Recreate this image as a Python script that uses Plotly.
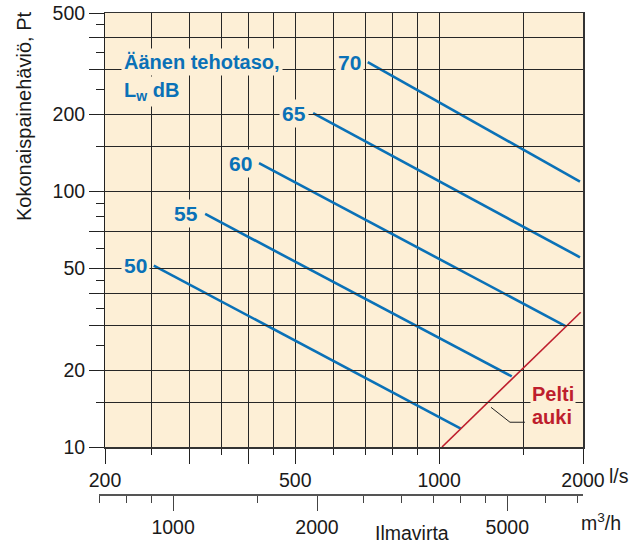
import math
import plotly.graph_objects as go

# ---------------- data ----------------
lw_levels = [50, 55, 60, 65, 70]                      # sound power level, dB
lw_flow_start = [253, 324, 420, 545, 709]             # l/s
lw_flow_end = [1110, 1419, 1834, 1971, 1971]          # l/s
lw_dp_start = [51.3, 81.7, 129.1, 202.6, 320.8]       # Pa
lw_dp_end = [11.8, 18.9, 29.8, 55.3, 109.4]           # Pa

damper_flow = [1014, 1978]                            # "Pelti auki" l/s
damper_dp = [10.0, 33.7]                              # Pa

leader_flow = [1512, 1407, 1284]
leader_dp = [12.5, 12.5, 14.3]

x_major = [200, 300, 400, 500, 1000, 2000]
x_major_text = ["200", "", "", "500", "1000", "2000"]
x_minor = [250, 350, 450, 600, 700, 800, 900, 1500]

y_grid = [15, 20, 30, 40, 50, 70, 100, 150, 200, 300, 400]
y_major = [10, 20, 30, 40, 50, 70, 100, 200, 300, 400, 500]
y_major_text = ["10", "20", "", "", "50", "", "100", "200", "", "", "500"]
y_minor = [15, 25, 35, 45, 60, 80, 90, 150, 250, 350, 450]

m3h_major = [1000, 2000, 5000]
m3h_major_text = ["1000", "2000", "5000"]
m3h_minor = [700, 800, 900, 1500, 2500, 3000, 3500, 4000, 4500, 6000, 7000]
m3h_range = [700, 7200]

x_range = [200, 2000]
y_range = [10, 500]

# ---------------- styling ----------------
BLUE = "#0a71b7"
RED = "#be1e2d"
BG = "#fdefd6"
GRID = "#262626"
FONT = "Liberation Sans, Arial, sans-serif"
TXT = "#1a1a1a"

W, H = 640, 547
ML, MR, MT, MB = 99, 57, 13, 53
PW = W - ML - MR
PH = H - MT - MB
x_dom0 = 6 / PW
y_dom0 = 47 / PH

fig = go.Figure()

# cream plot area
fig.add_shape(type="rect", xref="x domain", yref="y domain", x0=0, x1=1, y0=0, y1=1,
              fillcolor=BG, line=dict(width=0), layer="below")

for lv, xs, xe, ys, ye in zip(lw_levels, lw_flow_start, lw_flow_end, lw_dp_start, lw_dp_end):
    fig.add_trace(go.Scatter(x=[xs, xe], y=[ys, ye], mode="lines",
                             line=dict(color=BLUE, width=2.6), showlegend=False,
                             hoverinfo="skip"))
    fig.add_annotation(x=math.log10(xs), y=math.log10(ys), xref="x", yref="y",
                       text=f"<b>{lv}</b>", showarrow=False, xanchor="right",
                       yanchor="middle", xshift=-4, bgcolor=BG, borderpad=2,
                       font=dict(family=FONT, size=21, color=BLUE))

fig.add_trace(go.Scatter(x=damper_flow, y=damper_dp, mode="lines",
                         line=dict(color=RED, width=1.6), showlegend=False,
                         hoverinfo="skip"))
fig.add_trace(go.Scatter(x=leader_flow, y=leader_dp, mode="lines",
                         line=dict(color="#222", width=1), showlegend=False,
                         hoverinfo="skip"))

# invisible helpers so the extra axes are drawn
fig.add_trace(go.Scatter(x=[m3h_minor[0]], y=[y_range[0]], xaxis="x2", yaxis="y",
                         mode="markers", marker=dict(opacity=0), showlegend=False,
                         hoverinfo="skip"))
fig.add_trace(go.Scatter(x=[x_range[0]], y=[y_range[0]], xaxis="x", yaxis="y2",
                         mode="markers", marker=dict(opacity=0), showlegend=False,
                         hoverinfo="skip"))

tickfont = dict(family=FONT, size=19.5, color=TXT)

fig.update_layout(
    width=W, height=H,
    margin=dict(l=ML, r=MR, t=MT, b=MB, pad=0, autoexpand=False),
    paper_bgcolor="white", plot_bgcolor="rgba(0,0,0,0)",
    showlegend=False, hovermode=False,
    xaxis=dict(type="log", range=[math.log10(v) for v in x_range], domain=[x_dom0, 1],
               anchor="y", tickmode="array", tickvals=x_major, ticktext=x_major_text,
               ticks="outside", ticklen=15, tickwidth=1, tickcolor="#222",
               showgrid=True, gridcolor=GRID, gridwidth=1,
               minor=dict(tickmode="array", tickvals=x_minor, ticks="outside", ticklen=6,
                          tickwidth=1, tickcolor="#222", showgrid=True,
                          gridcolor=GRID, gridwidth=1),
               showline=True, linecolor="#333", linewidth=1.5, mirror=True,
               zeroline=False, tickfont=tickfont, fixedrange=True, automargin=False,
               ticklabeloverflow="allow"),
    yaxis=dict(type="log", range=[math.log10(v) for v in y_range], domain=[y_dom0, 1],
               anchor="x", tickmode="array", tickvals=y_grid, showticklabels=False,
               ticks="", showgrid=True, gridcolor=GRID, gridwidth=1,
               showline=True, linecolor="#333", linewidth=1.5, mirror=True,
               zeroline=False, fixedrange=True, automargin=False),
    yaxis2=dict(type="log", range=[math.log10(v) for v in y_range], overlaying="y",
                anchor="x", side="left", tickmode="array", tickvals=y_major,
                ticktext=y_major_text, ticks="outside", ticklen=15, tickwidth=1,
                tickcolor="#222",
                minor=dict(tickmode="array", tickvals=y_minor, ticks="outside", ticklen=8,
                           tickwidth=1, tickcolor="#222", showgrid=False),
                showgrid=False, showline=True, linecolor="#222", linewidth=1,
                zeroline=False, tickfont=tickfont, fixedrange=True, automargin=False,
                ticklabeloverflow="allow"),
    xaxis2=dict(type="log", range=[math.log10(v) for v in m3h_range], domain=[0, 1],
                anchor="free", position=0, side="bottom", tickmode="array",
                tickvals=m3h_major, ticktext=m3h_major_text, ticks="outside",
                ticklen=15, tickwidth=1, tickcolor="#444",
                minor=dict(tickmode="array", tickvals=m3h_minor, ticks="outside",
                           ticklen=7, tickwidth=1, tickcolor="#444", showgrid=False),
                showgrid=False, showline=True, linecolor="#555", linewidth=1.5,
                zeroline=False, tickfont=tickfont, fixedrange=True, automargin=False,
                ticklabeloverflow="allow"),
)

def px_x(p):
    return (p - ML) / PW

def px_y(p):
    return (H - MB - p) / PH

# text block (two lines, reference spacing)
fig.add_annotation(xref="paper", yref="paper", x=px_x(121), y=px_y(62), xanchor="left",
                   yanchor="middle", align="left", showarrow=False, bgcolor=BG,
                   borderpad=2, text="<b>Äänen tehotaso,</b>",
                   font=dict(family=FONT, size=20, color=BLUE))
fig.add_annotation(xref="paper", yref="paper", x=px_x(121), y=px_y(91), xanchor="left",
                   yanchor="middle", align="left", showarrow=False, bgcolor=BG,
                   borderpad=2, text="<b>L<sub>w</sub> dB</b>",
                   font=dict(family=FONT, size=20, color=BLUE))

# Pelti auki label
fig.add_annotation(xref="x", yref="y", x=math.log10(leader_flow[0]), y=math.log10(16.1),
                   xanchor="left", yanchor="middle", xshift=5, showarrow=False,
                   bgcolor=BG, borderpad=1, text="<b>Pelti</b>",
                   font=dict(family=FONT, size=20, color=RED))
fig.add_annotation(xref="x", yref="y", x=math.log10(leader_flow[0]), y=math.log10(13.1),
                   xanchor="left", yanchor="middle", xshift=5, showarrow=False,
                   bgcolor=BG, borderpad=1, text="<b>auki</b>",
                   font=dict(family=FONT, size=20, color=RED))

# unit labels and titles
fig.add_annotation(xref="x", yref="paper", x=math.log10(x_range[1]), y=px_y(476),
                   xanchor="left", yanchor="middle", xshift=24, showarrow=False,
                   text="l/s", font=tickfont)
fig.add_annotation(xref="paper", yref="paper", x=px_x(579), y=px_y(522),
                   xanchor="left", yanchor="middle", showarrow=False,
                   text="m<sup>3</sup>/h", font=tickfont)
fig.add_annotation(xref="paper", yref="paper", x=px_x(412), y=px_y(533),
                   xanchor="center", yanchor="middle", showarrow=False,
                   text="Ilmavirta", font=tickfont)
fig.add_annotation(xref="paper", yref="paper", x=px_x(24), y=px_y(117),
                   xanchor="center", yanchor="middle", showarrow=False, textangle=-90,
                   text="Kokonaispainehäviö, Pt", font=dict(family=FONT, size=20, color=TXT))

fig.write_html("out.html", config={"displayModeBar": False, "staticPlot": True},
               post_script="document.body.style.margin='0px';")
